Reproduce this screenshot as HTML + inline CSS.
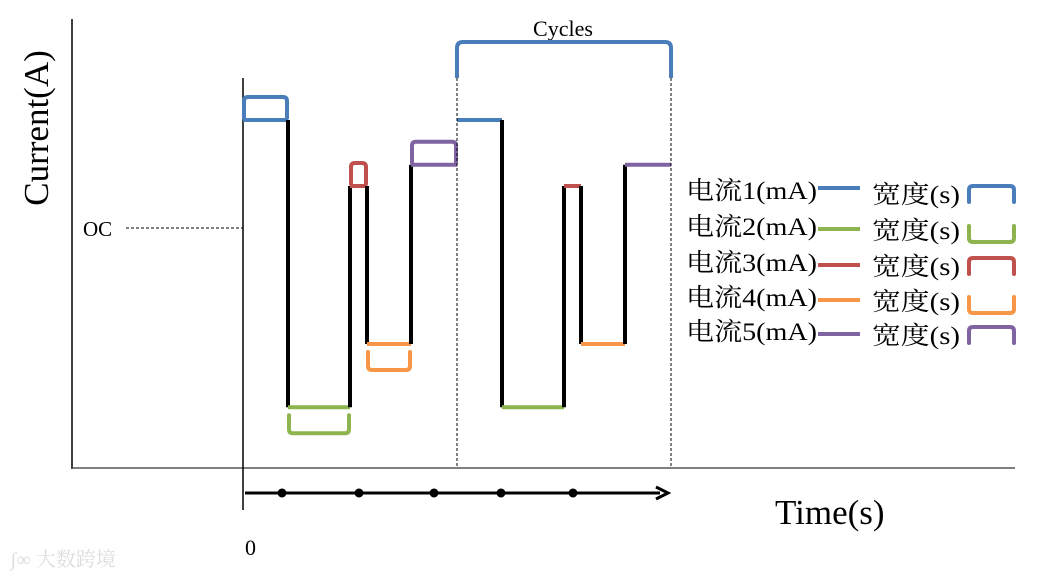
<!DOCTYPE html>
<html><head><meta charset="utf-8">
<style>
html,body{margin:0;padding:0;background:#fff;}
svg{display:block;}
text{font-family:"Liberation Serif","Noto Serif CJK SC",serif;fill:#000;}
</style></head>
<body>
<svg id="chart" width="1063" height="579" viewBox="0 0 1063 579" xmlns="http://www.w3.org/2000/svg">
<g id="axes">
  <line x1="72" y1="19" x2="72" y2="469" stroke="#000" stroke-width="1.5"/>
  <line x1="72" y1="468" x2="1015" y2="468" stroke="#555" stroke-width="1.5"/>
  <line x1="243" y1="78" x2="243" y2="510" stroke="#000" stroke-width="1.5"/>
  <line x1="126" y1="228" x2="243" y2="228" stroke="#000" stroke-width="1" stroke-dasharray="3,2"/>
  <text x="83" y="236" font-size="21">OC</text>
  <text transform="translate(48,128) rotate(-90)" text-anchor="middle" font-size="35">Current(A)</text>
  <text x="775" y="524" font-size="35">Time(s)</text>
  <text x="245" y="555" font-size="22">0</text>
  <text x="563" y="36" text-anchor="middle" font-size="22">Cycles</text>
  <text x="10" y="566" font-size="20" style="fill:#ddd" font-family="'Noto Sans CJK SC',sans-serif">ʃ∞ 大数跨境</text>
</g>
<g id="marks"></g>
</svg>
<script>
const steps = ["I1","I2","I3","I4","I5"];
const levels = [8.7, 1.52, 7.05, 3.1, 7.58];   // current level (arbitrary units)
const widths = [45, 62, 17, 44, 46];           // pulse width (s-units)
const colors = ["#4a7ebb","#8db44e","#c0504d","#f79646","#8064a2"];
const bracketUp = [true, false, true, false, true];
const cycles = 2;
const tDots = [282, 359, 434, 501, 573];

const NS = "http://www.w3.org/2000/svg";
const g = document.getElementById("marks");
const x0 = 243, tScale = 1.0;
const yLevel = v => 468 - v * 40;
const xT = t => x0 + t * tScale;
function mk(tag, attrs){ const e=document.createElementNS(NS,tag); for(const k in attrs) e.setAttribute(k,attrs[k]); g.appendChild(e); return e; }

const cycleLen = widths.reduce((a,b)=>a+b,0);
let t = 0;
for (let c=0;c<cycles;c++){
  let prevY = null;
  for (let i=0;i<steps.length;i++){
    const y = yLevel(levels[i]);
    const xa = xT(t), xb = xT(t+widths[i]);
    if (prevY!==null){
      const v = mk("line",{x1:xa,y1:prevY,x2:xa,y2:y,stroke:"#000","stroke-width":4});
      
      
    }
    const h = mk("line",{x1:xa,y1:y,x2:xb,y2:y,stroke:colors[i],"stroke-width":4});
    
    
    if (c===0){
      const off = bracketUp[i] ? -23 : 26;
      const yb = y + off, yl = bracketUp[i] ? y-2 : y+8;
      const b = mk("path",{d:`M${xa+1},${yl} L${xa+1},${yb+(bracketUp[i]?4:-4)} Q${xa+1},${yb} ${xa+5},${yb} L${xb-5},${yb} Q${xb-1},${yb} ${xb-1},${yb+(bracketUp[i]?4:-4)} L${xb-1},${yl}`,fill:"none",stroke:colors[i],"stroke-width":4,"stroke-linecap":"round"});
      
      
    }
    prevY = y; t += widths[i];
  }
}
const cx1 = xT(cycleLen), cx2 = xT(2*cycleLen);
[cx1,cx2].forEach(x=>{
  const d = mk("line",{x1:x,y1:78,x2:x,y2:468,stroke:"#000","stroke-width":1,"stroke-dasharray":"3,2"});
  
  
});
const cb = mk("path",{d:`M${cx1},78 L${cx1},48 Q${cx1},42 ${cx1+6},42 L${cx2-6},42 Q${cx2},42 ${cx2},48 L${cx2},78`,fill:"none",stroke:"#4a7ebb","stroke-width":4});



const ar = mk("line",{x1:245,y1:493,x2:660,y2:493,stroke:"#000","stroke-width":3});


const ah = mk("path",{d:"M656,487 L668,493 L656,499",fill:"none",stroke:"#000","stroke-width":3});


tDots.forEach(x=>{
  const d = mk("circle",{cx:x,cy:493,r:4.5,fill:"#000"});
  
  
});

const legY = [190, 226, 262, 297, 331];
for (let i=0;i<steps.length;i++){
  const y = legY[i];
  const tx = mk("text",{x:686,y:y+9,"font-size":25,textLength:131,lengthAdjust:"spacingAndGlyphs"});
  tx.textContent = "电流"+(i+1)+"(mA)";
  
  
  const ln = mk("line",{x1:818,y1:y+(i===0?-2:3),x2:860,y2:y+(i===0?-2:3),stroke:colors[i],"stroke-width":4});
  
  
  const tw = mk("text",{x:872,y:y+13,"font-size":25,textLength:88,lengthAdjust:"spacingAndGlyphs"});
  tw.textContent = "宽度(s)";
  
  
  const up = bracketUp[i];
  const yt = up ? y-4 : y+16, yl = up ? y+12 : y;
  const bp = mk("path",{d:`M969,${yl} L969,${yt+(up?4:-4)} Q969,${yt} 973,${yt} L1010,${yt} Q1014,${yt} 1014,${yt+(up?4:-4)} L1014,${yl}`,fill:"none",stroke:colors[i],"stroke-width":4,"stroke-linecap":"round"});
  
  
}
</script>
</body></html>
